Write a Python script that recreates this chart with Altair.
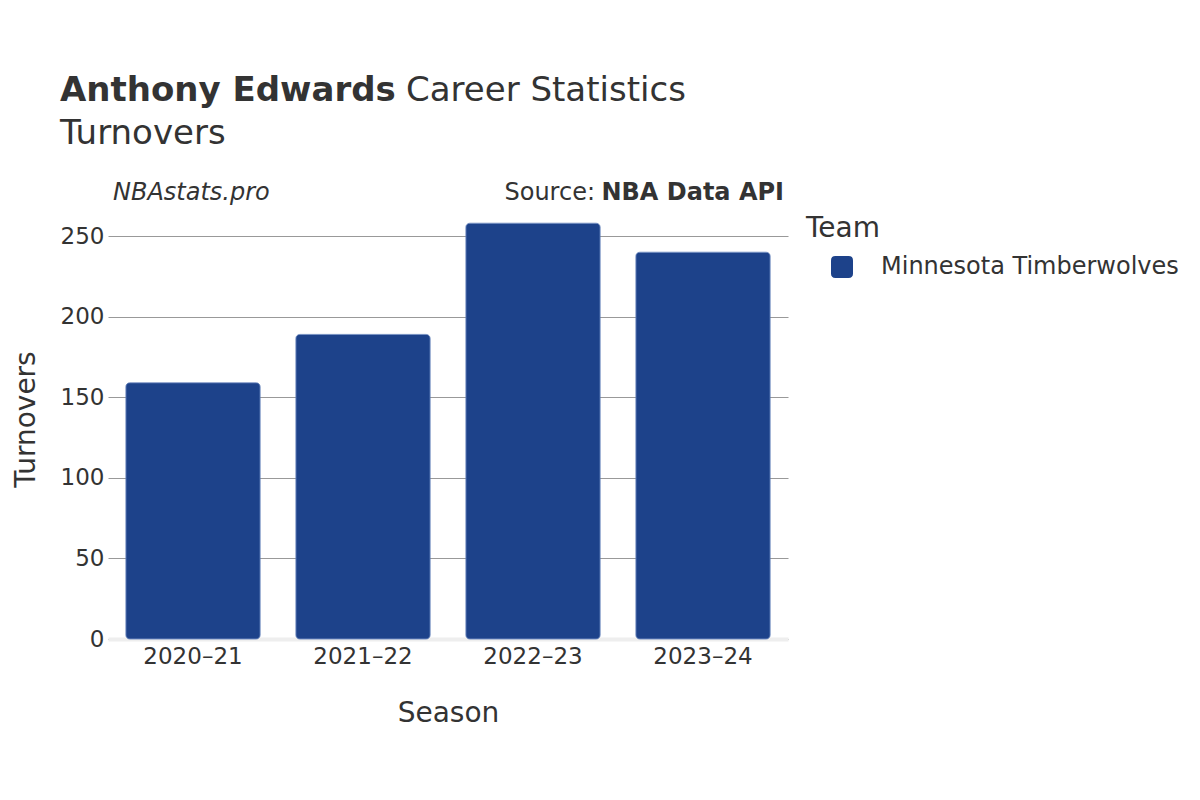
import altair as alt
import pandas as pd

seasons = ["2020–21", "2021–22", "2022–23", "2023–24"]
turnovers = [159, 189, 258, 240]
teams = ["Minnesota Timberwolves"] * 4
team_colors = ["#1d428a"]

df = pd.DataFrame({"Season": seasons, "Turnovers": turnovers, "Team": teams})

FONT = "DejaVu Sans"
TXT = "#333333"
rounded_sq = "M -0.6 -1 L 0.6 -1 Q 1 -1 1 -0.6 L 1 0.6 Q 1 1 0.6 1 L -0.6 1 Q -1 1 -1 0.6 L -1 -0.6 Q -1 -1 -0.6 -1 Z"

bars = alt.Chart(df).mark_bar(
    cornerRadius=4, stroke="#5a7ab5", strokeWidth=0.8
).encode(
    x=alt.X("Season:N", sort=seasons, title="Season",
            scale=alt.Scale(paddingInner=0.21, paddingOuter=0.105),
            axis=alt.Axis(labelAngle=0, labelFontSize=23, titleFontSize=28,
                          labelColor=TXT, titleColor=TXT, ticks=False,
                          domainColor="#eeeeee", domainWidth=4,
                          labelPadding=6, titlePadding=31, labelFont=FONT, titleFont=FONT,
                          titleFontWeight="normal")),
    y=alt.Y("Turnovers:Q", title="Turnovers",
            scale=alt.Scale(domain=[0, 260], nice=False),
            axis=alt.Axis(values=[0, 50, 100, 150, 200, 250], labelFontSize=23,
                          titleFontSize=28, labelColor=TXT, titleColor=TXT,
                          ticks=False, domain=False, gridColor="#999999",
                          gridWidth=1, labelPadding=4, titlePadding=20,
                          titleY=199,
                          labelFont=FONT, titleFont=FONT, titleFontWeight="normal")),
    color=alt.Color("Team:N", scale=alt.Scale(range=team_colors),
                    legend=alt.Legend(title="Team", orient="none", legendX=698, legendY=-5,
                                      titleFontSize=28, labelFontSize=24,
                                      titleColor=TXT, labelColor=TXT,
                                      titleFont=FONT, labelFont=FONT,
                                      titleFontWeight="normal", labelLimit=400,
                                      symbolType=rounded_sq, symbolSize=484,
                                      symbolStrokeWidth=0, labelOffset=27,
                                      titlePadding=12, padding=0,
                                      symbolOffset=24)),
)

def txt(s, x, y, size, weight="normal", style="normal", align="left"):
    return alt.Chart(pd.DataFrame({"t": [s]})).mark_text(
        font=FONT, fontSize=size, fontWeight=weight, fontStyle=style,
        align=align, baseline="alphabetic", color=TXT
    ).encode(text="t:N", x=alt.value(x), y=alt.value(y))

ox, oy = 108, 220
t1 = txt("Anthony Edwards", 60 - ox, 101 - oy, 34, weight="bold")
t2 = txt("Career Statistics", 406 - ox, 101 - oy, 34)
t3 = txt("Turnovers", 60 - ox, 144 - oy, 34)
t4 = txt("NBAstats.pro", 113 - ox, 200 - oy, 24, style="italic")
t5 = txt("Source:", 595 - ox, 200 - oy, 24, align="right")
t6 = txt("NBA Data API", 784 - ox, 200 - oy, 24, weight="bold", align="right")

chart = alt.layer(bars, t1, t2, t3, t4, t5, t6).properties(
    width=680, height=419,
    background="white",
    autosize=alt.AutoSizeParams(type="none"),
    padding={"left": 100, "top": 212, "right": 400, "bottom": 150},
).configure_view(stroke="transparent", strokeWidth=0)

chart.save("out.html", embed_options={"renderer": "svg", "actions": False})
